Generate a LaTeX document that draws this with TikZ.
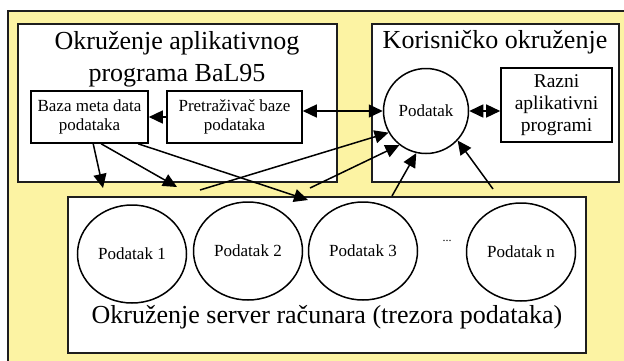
\documentclass[tikz,border=0pt]{standalone}
\usepackage{fontspec}
\setmainfont{Liberation Serif}
\usetikzlibrary{arrows.meta,shapes.geometric}
\definecolor{bgyellow}{HTML}{FCF3A3}
\definecolor{edgegray}{HTML}{1E1E1E}
\begin{document}
\begin{tikzpicture}[x=1pt,y=-1pt,
  box/.style={draw=edgegray,line width=2pt,fill=white,rectangle,inner sep=0pt},
  smallbox/.style={draw=black,line width=1.6pt,fill=white,rectangle,inner sep=0pt,align=center,font=\fontsize{17}{19.5}\selectfont},
  datacirc/.style={draw=black,line width=1.5pt,fill=white,ellipse,inner sep=0pt,minimum width=109pt,minimum height=98pt,font=\fontsize{17}{19.5}\selectfont},
  bigtitle/.style={align=center,inner sep=0pt,font=\fontsize{26}{32}\selectfont},
  conn/.style={line width=1.5pt,-{Triangle[length=14pt,width=13pt]}},
  conn2/.style={line width=1.5pt,{Triangle[length=14pt,width=13pt]}-{Triangle[length=14pt,width=13pt]}}
]
\useasboundingbox (0,0) rectangle (624,360);
\clip (0,0) rectangle (624,360);
% outer yellow environment
\fill[bgyellow] (8,11) rectangle (640,380);
\draw[edgegray,line width=2pt] (8,380) -- (8,11) -- (640,11);

% three environment boxes
\node[box,minimum width=319pt,minimum height=158pt] (leftbox) at (177.5,103) {};
\node[box,minimum width=247pt,minimum height=158pt] (rightbox) at (495.5,103) {};
\node[box,minimum width=518pt,minimum height=156pt] (bottombox) at (327,275) {};

% titles
\node[bigtitle] (lefttitle) at (177,59) {Okruženje aplikativnog\\programa BaL95};
\node[bigtitle] (righttitle) at (495,42) {Korisničko okruženje};
\node[bigtitle] (bottomtitle) at (327,317) {Okruženje server računara (trezora podataka)};

% inner boxes
\node[smallbox,minimum width=117pt,minimum height=52pt] (baza) at (89.5,117) {Baza meta data\\podataka};
\node[smallbox,minimum width=135pt,minimum height=52pt] (pretr) at (234.5,117) {Pretraživač baze\\podataka};
\node[smallbox,minimum width=111pt,minimum height=74pt,font=\fontsize{19.5}{22}\selectfont] (razni) at (556.5,105) {Razni\\aplikativni\\programi};

% user data circle
\node[draw=black,line width=1.5pt,fill=white,circle,inner sep=0pt,minimum size=85pt,font=\fontsize{17}{19.5}\selectfont] (pod) at (426,111) {Podatak};

% server data circles
\node[datacirc] (p1) at (132,254) {Podatak 1};
\node[datacirc] (p2) at (248,251) {Podatak 2};
\node[datacirc] (p3) at (363,251) {Podatak 3};
\node[datacirc] (pn) at (521,252) {Podatak n};
\node[inner sep=0pt,font=\fontsize{12}{14}\selectfont] (dots) at (447,241) {...};

% free ends of connectors
\coordinate (e1) at (103,188);
\coordinate (e2) at (177,187);
\coordinate (e3) at (308,200);
\coordinate (s1) at (200,190);
\coordinate (s2) at (310,188);
\coordinate (s3) at (392,196);
\coordinate (s4) at (493,189);

% connectors
\draw[conn2] (pretr.east |- pod.west) -- (pod.west);
\draw[conn] (pretr.west) -- (baza.east);
\draw[conn2] (pod.east) -- (pod.east -| razni.west);
\draw[conn] ([xshift=63pt]baza.south west) -- (e1);
\draw[conn] ([xshift=71pt]baza.south west) -- (e2);
\draw[conn] ([xshift=108pt]baza.south west) -- (e3);
\draw[conn] (s1) -- (pod.210);
\draw[conn] (s2) -- (pod.232);
\draw[conn] (s3) -- (pod.257);
\draw[conn] (s4) -- (pod.317);
\end{tikzpicture}
\end{document}
